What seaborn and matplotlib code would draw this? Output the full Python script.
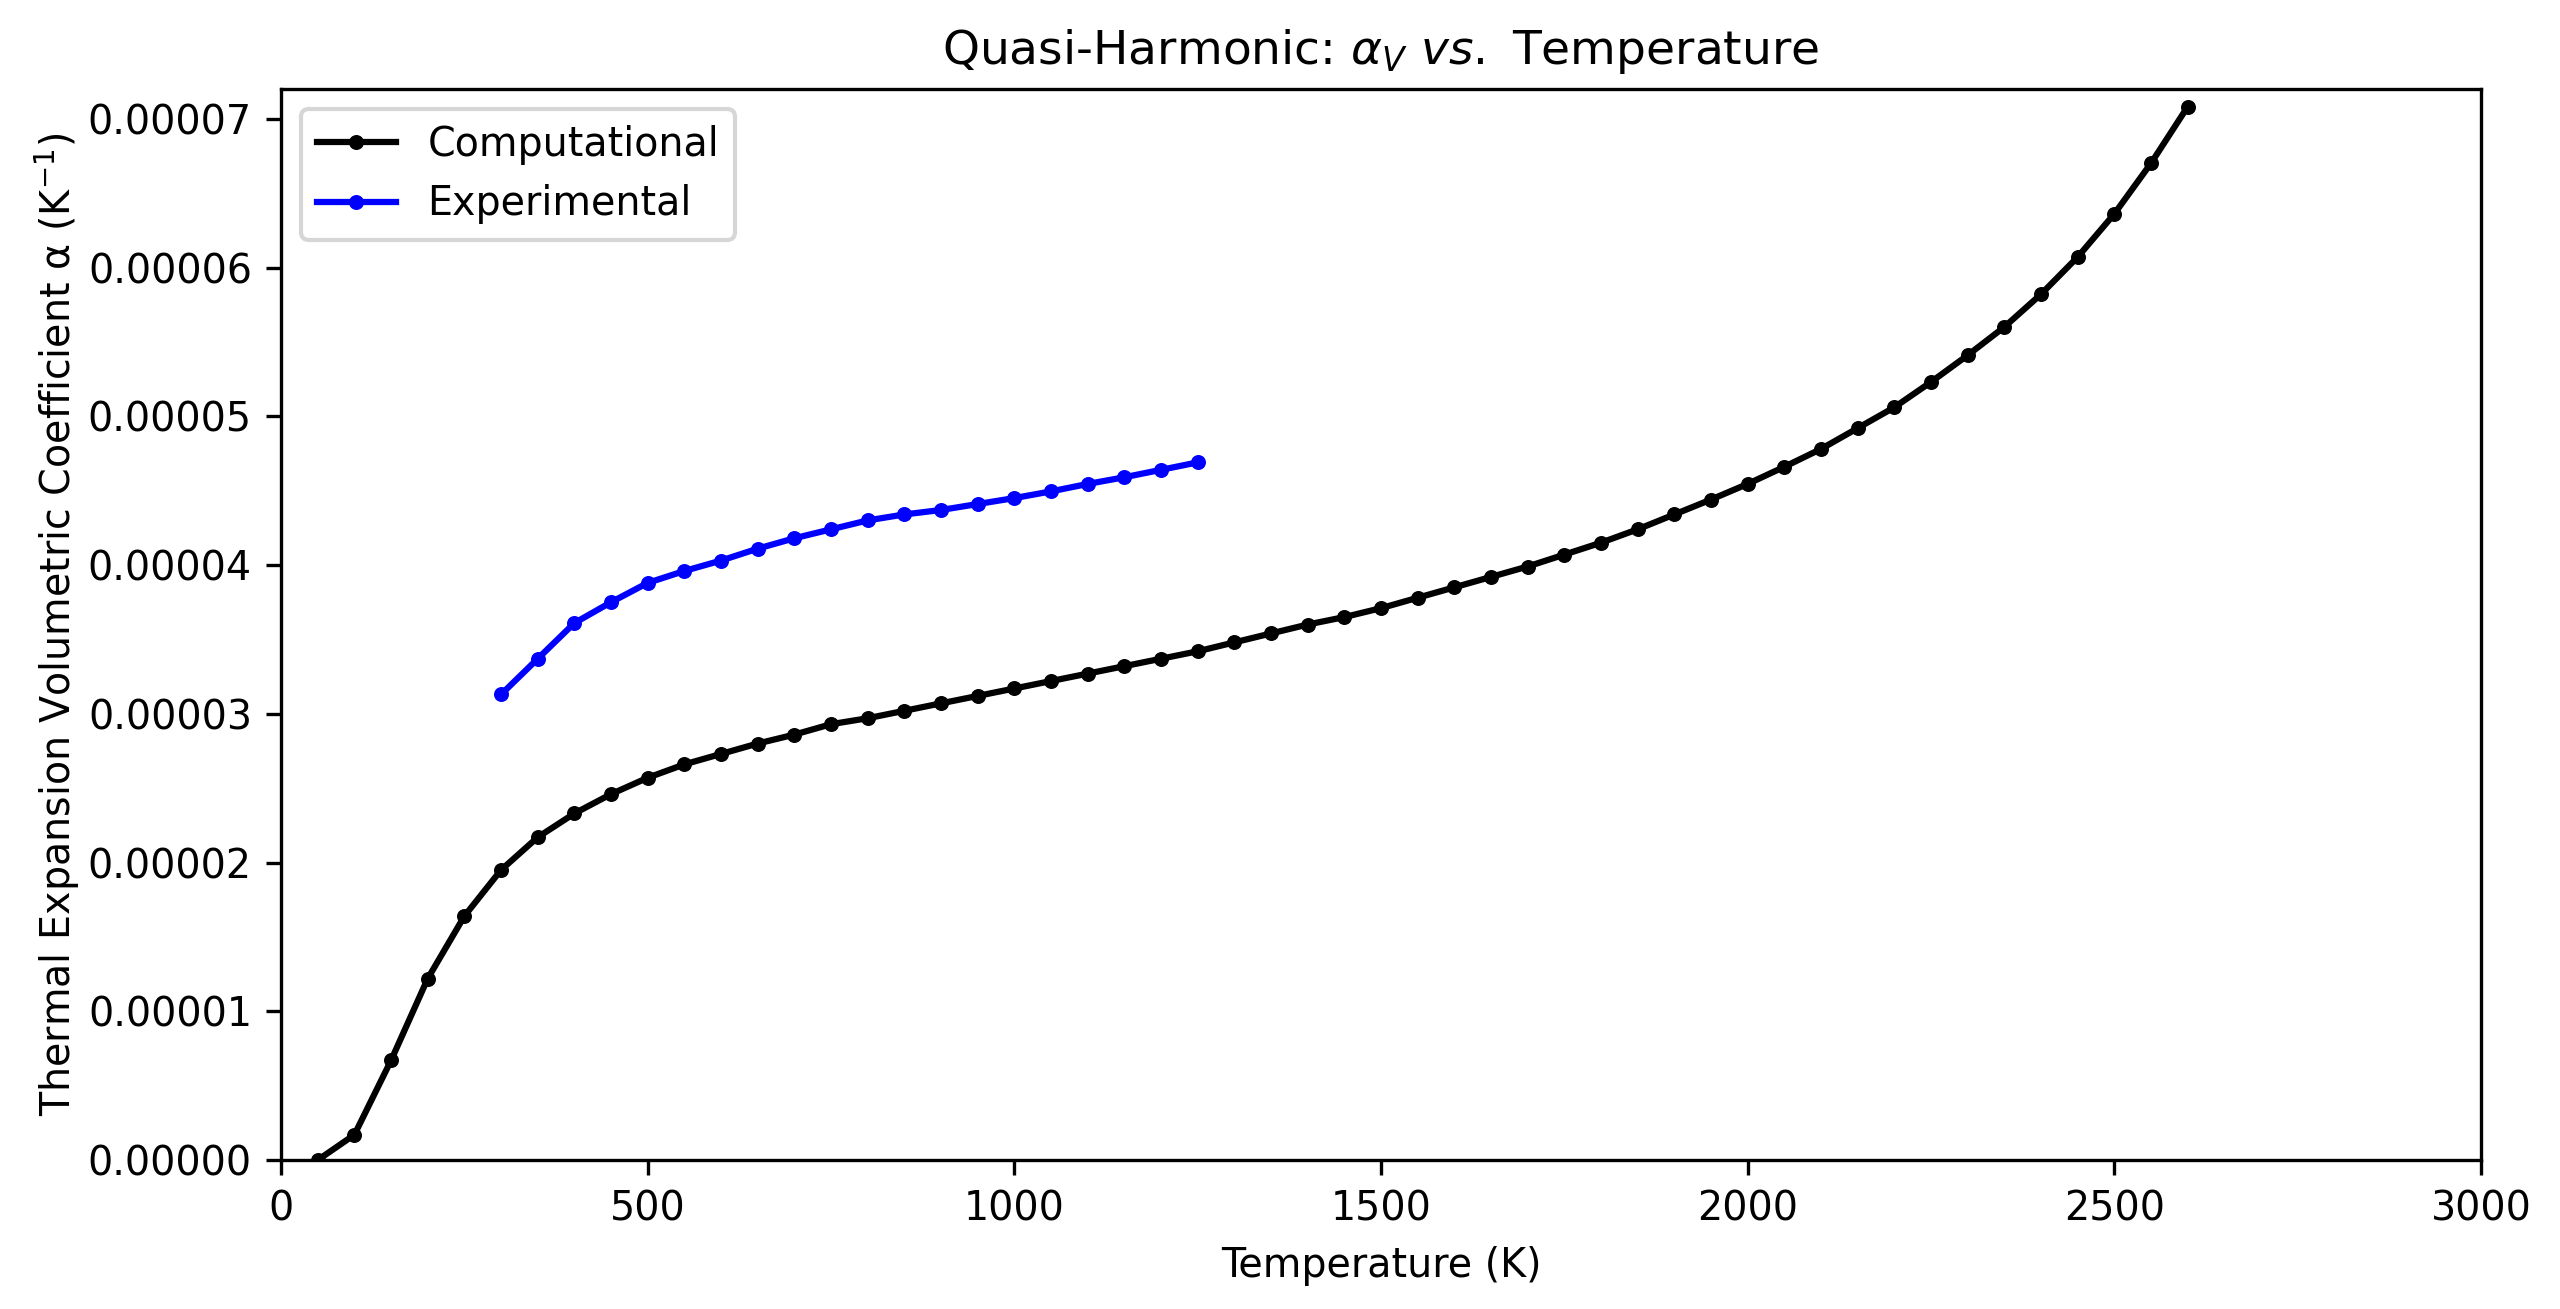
import matplotlib
matplotlib.use("Agg")
import matplotlib.pyplot as plt
import matplotlib.ticker as mticker
import seaborn as sns
import pandas as pd

# computational (quasi-harmonic) values, T = 50..2600 K step 50
comp_temp = list(range(50, 2601, 50))
comp_alpha = [
    0.00, 0.17, 0.67, 1.22, 1.64, 1.95, 2.17, 2.33, 2.46, 2.57,
    2.66, 2.73, 2.80, 2.86, 2.93, 2.97, 3.02, 3.07, 3.12, 3.17,
    3.22, 3.27, 3.32, 3.37, 3.42, 3.48, 3.54, 3.60, 3.65, 3.71,
    3.78, 3.85, 3.92, 3.99, 4.07, 4.15, 4.24, 4.34, 4.44, 4.545,
    4.66, 4.78, 4.92, 5.06, 5.23, 5.41, 5.60, 5.82, 6.07, 6.36,
    6.70, 7.08,
]

# experimental values, T = 300..1250 K step 50
exp_temp = list(range(300, 1251, 50))
exp_alpha = [
    3.13, 3.37, 3.61, 3.75, 3.88, 3.96, 4.03, 4.11, 4.18, 4.24,
    4.30, 4.34, 4.37, 4.41, 4.45, 4.495, 4.545, 4.59, 4.64, 4.69,
]

comp = pd.DataFrame({"T": comp_temp, "alpha": [a * 1e-5 for a in comp_alpha]})
expt = pd.DataFrame({"T": exp_temp, "alpha": [a * 1e-5 for a in exp_alpha]})

plt.rcParams["font.family"] = ["DejaVu Sans"]
plt.rcParams["font.size"] = 9.5

fig, ax = plt.subplots(figsize=(2560 / 300, 1309 / 300), dpi=300)
fig.subplots_adjust(left=0.1098, right=0.9691, top=0.932, bottom=0.1138)

sns.lineplot(data=comp, x="T", y="alpha", ax=ax, color="black", marker="o",
             markersize=3.6, markeredgewidth=0, linewidth=1.5,
             label="Computational")
sns.lineplot(data=expt, x="T", y="alpha", ax=ax, color="blue", marker="o",
             markersize=3.6, markeredgewidth=0, linewidth=1.5,
             label="Experimental")

ax.set_xlim(0, 3000)
ax.set_ylim(0, 0.000072)
ax.yaxis.set_major_locator(mticker.MultipleLocator(0.00001))
ax.yaxis.set_major_formatter(mticker.FormatStrFormatter("%.5f"))
ax.set_title(r"Quasi-Harmonic: $\alpha_V$ $vs.$ Temperature", fontsize=11.3)
ax.set_xlabel("Temperature (K)")
ax.set_ylabel(r"Thermal Expansion Volumetric Coefficient α (K$^{-1}$)", labelpad=1.5)
ax.legend(loc="upper left")

plt.savefig("out.png", dpi=300)
